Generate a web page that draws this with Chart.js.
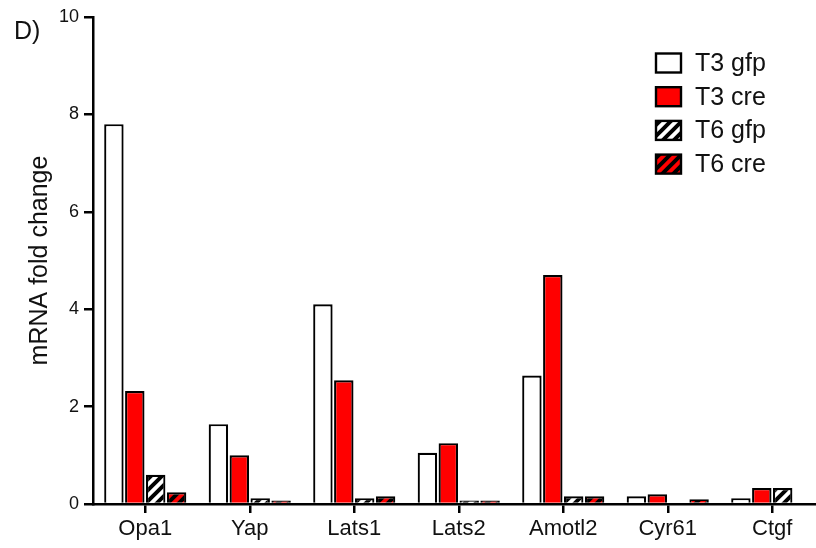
<!DOCTYPE html>
<html>
<head>
<meta charset="utf-8">
<script src="https://cdn.jsdelivr.net/npm/chart.js@4"></script>
<style>
  html, body { margin: 0; padding: 0; background: #fff; overflow: hidden; width: 816px; height: 548px; }
  #wrap { width: 840px; height: 548px; }
</style>
</head>
<body>
<div id="wrap"><canvas id="c" width="840" height="548"></canvas></div>
<script>
// Gene categories and fold-change values per condition
const categories = ['Opa1', 'Yap', 'Lats1', 'Lats2', 'Amotl2', 'Cyr61', 'Ctgf'];
const t3gfp = [7.8, 1.64, 4.1, 1.05, 2.64, 0.16, 0.12];
const t3cre = [2.32, 1.0, 2.54, 1.25, 4.7, 0.2, 0.33];
const t6gfp = [0.6, 0.12, 0.12, 0.07, 0.16, 0, 0.33];
const t6cre = [0.24, 0.07, 0.16, 0.07, 0.16, 0.1, 0];
const seriesLabels = ['T3 gfp', 'T3 cre', 'T6 gfp', 'T6 cre'];
const yTicks = [0, 2, 4, 6, 8, 10];

const FONT = 'Liberation Sans, Arial, sans-serif';
const RED = '#ff0000';

// Diagonal "/" stripe fill
function stripes(bg) {
  const s = 11;
  const p = document.createElement('canvas');
  p.width = s; p.height = s;
  const g = p.getContext('2d');
  g.fillStyle = bg; g.fillRect(0, 0, s, s);
  g.strokeStyle = '#000'; g.lineWidth = 4; g.lineCap = 'square';
  g.beginPath();
  g.moveTo(0, s); g.lineTo(s, 0);
  g.moveTo(-s / 2, s / 2); g.lineTo(s / 2, -s / 2);
  g.moveTo(s / 2, s * 1.5); g.lineTo(s * 1.5, s / 2);
  g.stroke();
  return g.createPattern(p, 'repeat');
}
const ctx0 = document.getElementById('c').getContext('2d');
const fills = ['#ffffff', RED, stripes('#ffffff'), stripes(RED)];
const values = [t3gfp, t3cre, t6gfp, t6cre];

// Panel letter and legend drawn on the canvas
const annotations = {
  id: 'annotations',
  afterDraw(chart) {
    const c = chart.ctx;
    c.save();
    c.fillStyle = '#111';
    c.font = '25px ' + FONT;
    c.textBaseline = 'alphabetic';
    c.textAlign = 'left';
    c.fillText('D)', 14, 39);
    const x0 = 656, w = 25, h = 19, y0 = 63, dy = 33.7;
    chart.data.datasets.forEach((ds, i) => {
      const yc = y0 + i * dy;
      c.fillStyle = ds.backgroundColor;
      c.fillRect(x0, yc - h / 2, w, h);
      c.lineWidth = 2.4;
      c.strokeStyle = '#000';
      c.strokeRect(x0, yc - h / 2, w, h);
      c.fillStyle = '#111';
      c.font = '25px ' + FONT;
      c.textBaseline = 'middle';
      c.fillText(ds.label, 695, yc + 1);
    });
    c.restore();
  }
};

new Chart(ctx0, {
  type: 'bar',
  data: {
    labels: categories,
    datasets: seriesLabels.map((lab, i) => ({
      label: lab,
      data: values[i],
      backgroundColor: fills[i],
      borderColor: '#000',
      borderWidth: 2.2,
      barPercentage: 0.93,
      categoryPercentage: 0.8
    }))
  },
  options: {
    responsive: false,
    animation: false,
    devicePixelRatio: 1,
    layout: { padding: { top: 17, right: 15.5, bottom: 0, left: 0 } },
    plugins: { legend: { display: false }, tooltip: { enabled: false } },
    scales: {
      x: {
        offset: true,
        afterFit(scale) { scale.height = 44; },
        grid: { display: true, offset: false, drawOnChartArea: false, drawTicks: true, tickLength: 9, color: '#000', lineWidth: 2.5 },
        border: { display: true, color: '#000', width: 2.5 },
        ticks: { color: '#111', font: { family: FONT, size: 22 }, padding: 3, maxRotation: 0, autoSkip: false }
      },
      y: {
        min: 0, max: 10,
        afterFit(scale) { scale.width = 93; },
        afterBuildTicks(scale) { scale.ticks = yTicks.map(v => ({ value: v })); },
        grid: { display: true, drawOnChartArea: false, drawTicks: true, tickLength: 9, color: '#000', lineWidth: 2.5 },
        border: { display: true, color: '#000', width: 2.5 },
        ticks: { color: '#111', font: { family: FONT, size: 18 }, padding: 5 },
        title: { display: true, text: 'mRNA fold change', color: '#111', font: { family: FONT, size: 25 }, padding: { top: 25, bottom: 0 } }
      }
    }
  },
  plugins: [annotations]
});
</script>
</body>
</html>
